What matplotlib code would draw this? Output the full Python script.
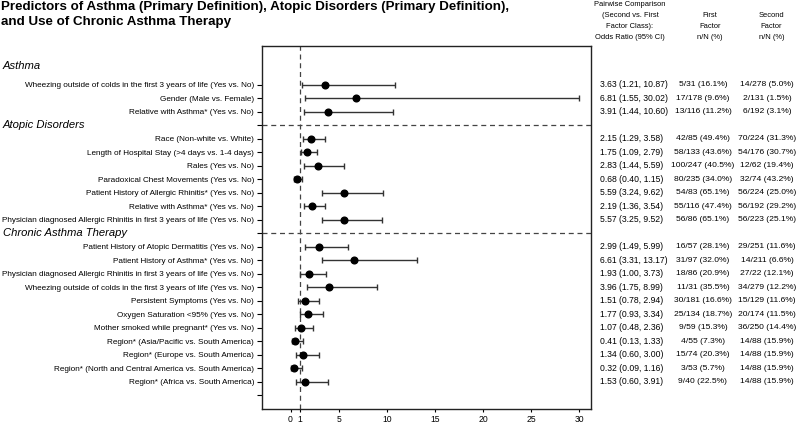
import matplotlib
matplotlib.use("Agg")
import matplotlib.pyplot as plt
from matplotlib.transforms import blended_transform_factory

plt.rcParams['font.family'] = ['Liberation Sans', 'DejaVu Sans']

sections = ["Asthma", "Atopic Disorders", "Chronic Asthma Therapy"]

asthma_labels = [
    "Wheezing outside of colds in the first 3 years of life (Yes vs. No)",
    "Gender (Male vs. Female)",
    "Relative with Asthma* (Yes vs. No)",
]
asthma_or = [3.63, 6.81, 3.91]
asthma_lo = [1.21, 1.55, 1.44]
asthma_hi = [10.87, 30.02, 10.60]
asthma_first = ["5/31 (16.1%)", "17/178 (9.6%)", "13/116 (11.2%)"]
asthma_second = ["14/278 (5.0%)", "2/131 (1.5%)", "6/192 (3.1%)"]

atopic_labels = [
    "Race (Non-white vs. White)",
    "Length of Hospital Stay (>4 days vs. 1-4 days)",
    "Rales (Yes vs. No)",
    "Paradoxical Chest Movements (Yes vs. No)",
    "Patient History of Allergic Rhinitis* (Yes vs. No)",
    "Relative with Asthma* (Yes vs. No)",
    "Physician diagnosed Allergic Rhinitis in first 3 years of life (Yes vs. No)",
]
atopic_or = [2.15, 1.75, 2.83, 0.68, 5.59, 2.19, 5.57]
atopic_lo = [1.29, 1.09, 1.44, 0.40, 3.24, 1.36, 3.25]
atopic_hi = [3.58, 2.79, 5.59, 1.15, 9.62, 3.54, 9.52]
atopic_first = ["42/85 (49.4%)", "58/133 (43.6%)", "100/247 (40.5%)", "80/235 (34.0%)",
                "54/83 (65.1%)", "55/116 (47.4%)", "56/86 (65.1%)"]
atopic_second = ["70/224 (31.3%)", "54/176 (30.7%)", "12/62 (19.4%)", "32/74 (43.2%)",
                 "56/224 (25.0%)", "56/192 (29.2%)", "56/223 (25.1%)"]

chronic_labels = [
    "Patient History of Atopic Dermatitis (Yes vs. No)",
    "Patient History of Asthma* (Yes vs. No)",
    "Physician diagnosed Allergic Rhinitis in first 3 years of life (Yes vs. No)",
    "Wheezing outside of colds in the first 3 years of life (Yes vs. No)",
    "Persistent Symptoms (Yes vs. No)",
    "Oxygen Saturation <95% (Yes vs. No)",
    "Mother smoked while pregnant* (Yes vs. No)",
    "Region* (Asia/Pacific vs. South America)",
    "Region* (Europe vs. South America)",
    "Region* (North and Central America vs. South America)",
    "Region* (Africa vs. South America)",
]
chronic_or = [2.99, 6.61, 1.93, 3.96, 1.51, 1.77, 1.07, 0.41, 1.34, 0.32, 1.53]
chronic_lo = [1.49, 3.31, 1.00, 1.75, 0.78, 0.93, 0.48, 0.13, 0.60, 0.09, 0.60]
chronic_hi = [5.99, 13.17, 3.73, 8.99, 2.94, 3.34, 2.36, 1.33, 3.00, 1.16, 3.91]
chronic_first = ["16/57 (28.1%)", "31/97 (32.0%)", "18/86 (20.9%)", "11/31 (35.5%)",
                 "30/181 (16.6%)", "25/134 (18.7%)", "9/59 (15.3%)", "4/55 (7.3%)",
                 "15/74 (20.3%)", "3/53 (5.7%)", "9/40 (22.5%)"]
chronic_second = ["29/251 (11.6%)", "14/211 (6.6%)", "27/22 (12.1%)", "34/279 (12.2%)",
                  "15/129 (11.6%)", "20/174 (11.5%)", "36/250 (14.4%)", "14/88 (15.9%)",
                  "14/88 (15.9%)", "14/88 (15.9%)", "14/88 (15.9%)"]

x_ticks = [0, 1, 5, 10, 15, 20, 25, 30]

col_headers = [
    ["Pairwise Comparison", "(Second vs. First", "Factor Class):", "Odds Ratio (95% CI)"],
    ["First", "Factor", "n/N (%)"],
    ["Second", "Factor", "n/N (%)"],
]

# ---- assemble rows with separator slots ----
groups = [
    (asthma_labels, asthma_or, asthma_lo, asthma_hi, asthma_first, asthma_second),
    (atopic_labels, atopic_or, atopic_lo, atopic_hi, atopic_first, atopic_second),
    (chronic_labels, chronic_or, chronic_lo, chronic_hi, chronic_first, chronic_second),
]
ypos, labels, ors, los, his, firsts, seconds = [], [], [], [], [], [], []
sep_pos = []
header_pos = []
slot = 0
for gi, (lab, o, lo, hi, f, s) in enumerate(groups):
    if gi > 0:
        sep_pos.append(slot)
        header_pos.append(slot)
        slot += 1
    else:
        header_pos.append(-1.4)
    for i in range(len(lab)):
        ypos.append(slot)
        labels.append(lab[i]); ors.append(o[i]); los.append(lo[i]); his.append(hi[i])
        firsts.append(f[i]); seconds.append(s[i])
        slot += 1
end_tick = slot

W, H = 800, 423
fig = plt.figure(figsize=(8, 4.23), dpi=100)
ax = fig.add_axes([261.7 / W, 1 - 409 / H, (590.7 - 261.7) / W, (409 - 45.7) / H])

ecol = '#333333'
for y, o, lo, hi in zip(ypos, ors, los, his):
    ax.errorbar([o], [y], xerr=[[o - lo], [hi - o]], fmt='o', color='black',
                ecolor=ecol, elinewidth=1.0, capsize=2.4, capthick=1.0,
                markersize=4.8, zorder=3)

dash = (0, (4, 3))
ax.axvline(1, color='#444444', lw=0.9, linestyle=dash, zorder=1)
for sp in sep_pos:
    ax.axhline(sp, color='#444444', lw=0.9, linestyle=dash, zorder=1)

ax.set_xlim(-3.0, 31.2)
ax.set_ylim(24.0, -2.91)
ax.set_xticks(x_ticks)
ax.set_xticklabels([str(t) for t in x_ticks])
yt = list(ypos) + sep_pos + [end_tick]
ytl = list(labels) + [""] * len(sep_pos) + [""]
ax.set_yticks(yt)
ax.set_yticklabels(ytl)
ax.tick_params(axis='y', length=3.5, width=0.8, pad=2, labelsize=5.85, colors='black')
ax.tick_params(axis='x', length=2, width=0.8, pad=2.5, labelsize=6.2)
for s in ax.spines.values():
    s.set_linewidth(1.0)
    s.set_color('#222222')

tr = blended_transform_factory(fig.transFigure, ax.transData)
for name, hp in zip(sections, header_pos):
    fig.text(3 / W, hp, name, transform=tr, fontsize=8.1, style='italic',
             va='center', ha='left')

for y, o, lo, hi, f, s in zip(ypos, ors, los, his, firsts, seconds):
    fig.text(600 / W, y, f"{o:.2f} ({lo:.2f}, {hi:.2f})", transform=tr,
             fontsize=6.2, va='center', ha='left')
    fig.text(703 / W, y, f, transform=tr, fontsize=6.1, va='center', ha='center')
    fig.text(767 / W, y, s, transform=tr, fontsize=6.1, va='center', ha='center')

# column headers
hx = [630, 710, 771.5]
hy_rows = {4: [4, 15.7, 26.7, 37.3], 3: [15.7, 26.7, 37.3]}
for x, lines in zip(hx, col_headers):
    ys = hy_rows[len(lines)]
    for yy, line in zip(ys, lines):
        fig.text(x / W, 1 - yy / H, line, fontsize=5.4, ha='center', va='center')

# title
fig.text(1 / W, 1 - 9.8 / H,
         "Predictors of Asthma (Primary Definition), Atopic Disorders (Primary Definition),",
         fontsize=9.6, weight='bold', va='baseline', ha='left')
fig.text(1 / W, 1 - 25.5 / H, "and Use of Chronic Asthma Therapy",
         fontsize=9.6, weight='bold', va='baseline', ha='left')

fig.savefig("out.png", dpi=100)
